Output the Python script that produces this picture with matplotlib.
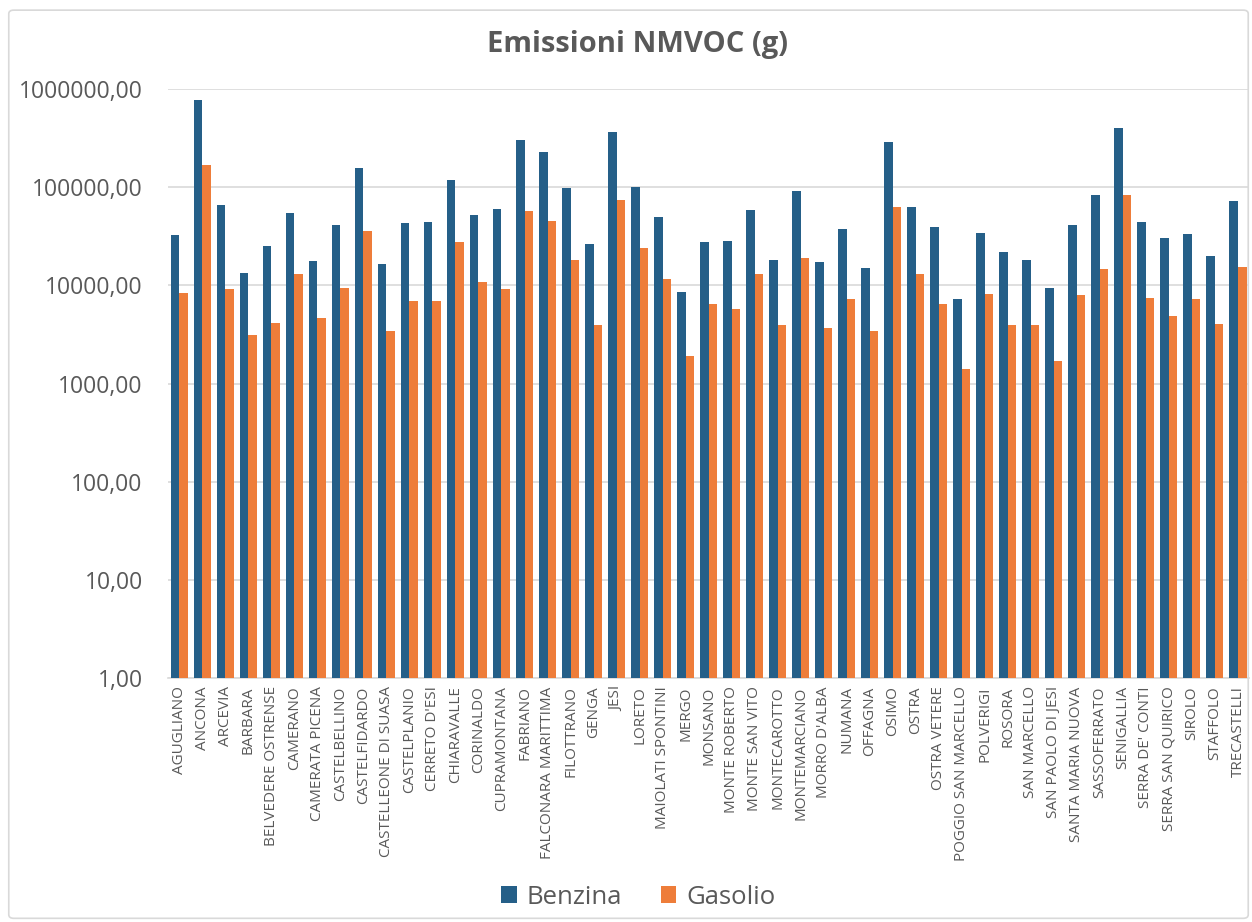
import matplotlib
matplotlib.use("Agg")
import matplotlib.pyplot as plt
import numpy as np
from matplotlib.patches import FancyBboxPatch
from matplotlib.ticker import FixedLocator, FuncFormatter

comuni = [
    "AGUGLIANO", "ANCONA", "ARCEVIA", "BARBARA", "BELVEDERE OSTRENSE",
    "CAMERANO", "CAMERATA PICENA", "CASTELBELLINO", "CASTELFIDARDO",
    "CASTELLEONE DI SUASA", "CASTELPLANIO", "CERRETO D'ESI", "CHIARAVALLE",
    "CORINALDO", "CUPRAMONTANA", "FABRIANO", "FALCONARA MARITTIMA",
    "FILOTTRANO", "GENGA", "JESI", "LORETO", "MAIOLATI SPONTINI", "MERGO",
    "MONSANO", "MONTE ROBERTO", "MONTE SAN VITO", "MONTECAROTTO",
    "MONTEMARCIANO", "MORRO D'ALBA", "NUMANA", "OFFAGNA", "OSIMO", "OSTRA",
    "OSTRA VETERE", "POGGIO SAN MARCELLO", "POLVERIGI", "ROSORA",
    "SAN MARCELLO", "SAN PAOLO DI JESI", "SANTA MARIA NUOVA", "SASSOFERRATO",
    "SENIGALLIA", "SERRA DE' CONTI", "SERRA SAN QUIRICO", "SIROLO",
    "STAFFOLO", "TRECASTELLI",
]

benzina = [
    32700, 770000, 66000, 13400, 25300, 54000, 17800, 41500, 155000,
    16500, 43000, 44000, 119000, 52000, 60000, 300000, 228000, 97000,
    26500, 365000, 101000, 50000, 8600, 27500, 28500, 58000, 18000,
    91000, 17200, 37500, 15000, 290000, 63000, 39000, 7300, 34000,
    21800, 18000, 9400, 41500, 84000, 405000, 44000, 30500, 33500,
    20000, 72000,
]

gasolio = [
    8400, 169000, 9100, 3100, 4150, 13100, 4700, 9300, 36000,
    3400, 6900, 7000, 27800, 10900, 9200, 57000, 45000, 18000,
    3900, 74000, 24000, 11700, 1900, 6500, 5800, 13000, 3900,
    19000, 3700, 7300, 3400, 63000, 13000, 6500, 1420, 8100,
    3900, 3900, 1680, 8000, 14800, 84000, 7500, 4900, 7200,
    4000, 15400,
]

y_ticks = [1, 10, 100, 1000, 10000, 100000, 1000000]

plt.rcParams["font.family"] = ["Open Sans", "DejaVu Sans"]

fig = plt.figure(figsize=(12.52, 9.22), dpi=100)
fig.patches.append(FancyBboxPatch((0.007, 0.004), 0.99, 0.985,
                                  boxstyle="round,pad=0,rounding_size=0.004",
                                  transform=fig.transFigure, fill=False,
                                  edgecolor="#d9d9d9", linewidth=1.2))

ax = fig.add_axes([0.134, 0.2646, 0.864, 0.6389])
x = np.arange(len(comuni))
w = 0.37
ax.bar(x - w / 2, benzina, w, color="#255f88", label="Benzina", zorder=3)
ax.bar(x + w / 2, gasolio, w, color="#ee7d3a", label="Gasolio", zorder=3)

ax.set_yscale("log")
ax.set_ylim(1, 1000000)
ax.set_xlim(-0.5, len(comuni) - 0.5)
ax.yaxis.set_major_locator(FixedLocator(y_ticks))
ax.yaxis.set_minor_locator(FixedLocator([]))
ax.yaxis.set_major_formatter(FuncFormatter(lambda v, p: f"{v:.2f}".replace(".", ",")))
ax.grid(True, axis="y", color="#d9d9d9", linewidth=1.2, zorder=0)

for s in ["top", "right", "left"]:
    ax.spines[s].set_visible(False)
ax.spines["bottom"].set_color("#d9d9d9")
ax.spines["bottom"].set_linewidth(1.2)
ax.tick_params(axis="both", length=0, colors="#595959")
ax.tick_params(axis="y", labelsize=16.5, pad=18)
ax.tick_params(axis="x", pad=6)
ax.set_xticks(x)
ax.set_xticklabels(comuni, rotation=90, fontsize=11, color="#595959")

fig.text(0.509, 0.952, "Emissioni NMVOC (g)", ha="center", va="center",
         fontsize=21, fontweight="bold", color="#595959")

fig.legend(loc="center", bbox_to_anchor=(0.51, 0.027), ncol=2, frameon=False,
           fontsize=18.5, labelcolor="#595959", handlelength=0.6, handleheight=0.6,
           columnspacing=1.5, handletextpad=0.4)

fig.savefig("out.png", dpi=100)
